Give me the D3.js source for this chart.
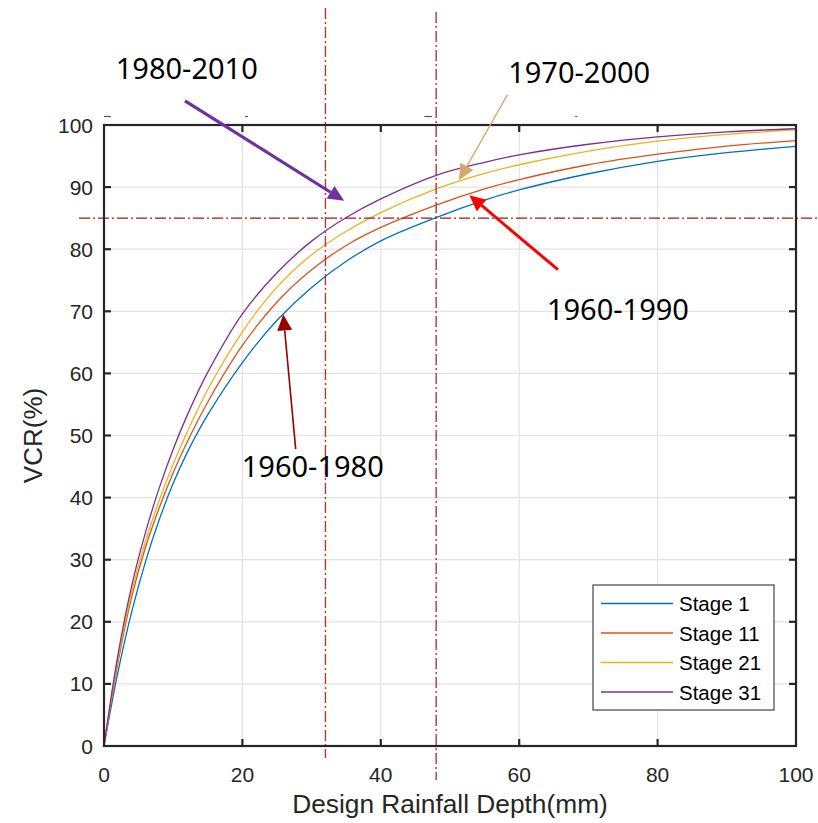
<!DOCTYPE html>
<html>
<head>
<meta charset="utf-8">
<script src="https://cdn.jsdelivr.net/npm/d3@7"></script>
<style>
  html, body { margin: 0; padding: 0; background: #fff; }
  svg { display: block; }
</style>
</head>
<body>
<svg id="chart" width="818" height="823"></svg>
<script>
// data
const depth = [0, 2, 4, 6, 8, 10, 12, 15, 20, 25, 30, 35, 40, 48, 55, 60, 70, 80, 90, 100];
const stage1  = [0, 11.8, 21.6, 29.7, 36.5, 42.3, 47.2, 53.35, 61.75, 68.55, 73.85, 78.05, 81.35, 85.1, 87.9, 89.55, 92.15, 94.15, 95.55, 96.55];
const stage11 = [0, 13.3, 24.0, 32.0, 38.4, 44.0, 48.9, 55.4, 64.5, 71.5, 76.7, 80.6, 83.5, 87.1, 89.7, 91.2, 93.6, 95.3, 96.6, 97.5];
const stage21 = [0, 13.9, 24.8, 33.0, 39.6, 45.4, 50.5, 57.4, 66.7, 73.9, 79.1, 82.9, 85.9, 89.7, 92.2, 93.6, 95.8, 97.4, 98.5, 99.2];
const stage31 = [0, 14.6, 25.8, 34.4, 41.6, 47.8, 53.2, 60.2, 69.6, 76.2, 81.3, 85.1, 88.1, 91.9, 94.0, 95.2, 96.9, 98.1, 98.9, 99.4];

const seriesNames = ["Stage 1", "Stage 11", "Stage 21", "Stage 31"];
const seriesValues = [stage1, stage11, stage21, stage31];
const seriesColors = ["#0072BD", "#D95319", "#EDB120", "#7E2F8E"];

const xTicks = [0, 20, 40, 60, 80, 100];
const yTicks = [0, 10, 20, 30, 40, 50, 60, 70, 80, 90, 100];

// reference lines
const refX = [32, 48];
const refY = 85;

// arrow annotations (data units)
const noteText  = ["1980-2010", "1970-2000", "1960-1990", "1960-1980"];
const noteTextX = [1.7, 58.4, 64.0, 19.9];
const noteTextY = [107.4, 106.8, 68.6, 43.3];
const noteFrom  = [[11.7, 103.9], [58.3, 104.9], [65.6, 76.7], [27.7, 47.8]];
const noteTo    = [[34.7, 87.8], [51.3, 91.1], [52.8, 88.7], [25.9, 69.5]];
const noteColor = ["#7030A0", "#D2AA6E", "#FF0000", "#990000"];
const noteWidth = [3.2, 1.3, 3.0, 1.6];

const svg = d3.select("#chart");
const mLeft = 104, mRight = 796, mTop = 125, mBottom = 746;

const x = d3.scaleLinear().domain([0, 100]).range([mLeft, mRight]);
const y = d3.scaleLinear().domain([0, 100]).range([mBottom, mTop]);

const axisColor = "#262626";
const tickFont = "'Liberation Sans', Arial, sans-serif";

// grid
const grid = svg.append("g");
grid.selectAll(".gx").data(xTicks.slice(1, -1)).enter().append("line")
    .attr("x1", d => x(d)).attr("x2", d => x(d))
    .attr("y1", mTop).attr("y2", mBottom)
    .attr("stroke", "#e3e3e3").attr("stroke-width", 1.2);
grid.selectAll(".gy").data(yTicks.slice(1, -1)).enter().append("line")
    .attr("x1", mLeft).attr("x2", mRight)
    .attr("y1", d => y(d)).attr("y2", d => y(d))
    .attr("stroke", "#e3e3e3").attr("stroke-width", 1.2);

// small leftover marks above the box
const strayX = [[0, 1], [20.4, 20.8], [46.3, 47.4], [68.1, 68.4]];
svg.selectAll(".stray").data(strayX).enter().append("line")
    .attr("x1", d => x(d[0])).attr("x2", d => x(d[1]))
    .attr("y1", 116.5).attr("y2", 116.5)
    .attr("stroke", "#555").attr("stroke-width", 1.2);

// curves
const line = d3.line()
    .x((d, i) => x(depth[i]))
    .y(d => y(d))
    .curve(d3.curveCatmullRom.alpha(0.5));

svg.append("g").selectAll("path").data(seriesValues).enter().append("path")
    .attr("d", d => line(d))
    .attr("fill", "none")
    .attr("stroke", (d, i) => seriesColors[i])
    .attr("stroke-width", 1.3);

// dash-dot reference lines
svg.selectAll(".vref").data(refX).enter().append("line")
    .attr("x1", d => x(d)).attr("x2", d => x(d))
    .attr("y1", (d, i) => i === 0 ? 8 : 12)
    .attr("y2", (d, i) => i === 0 ? 758 : 780)
    .attr("stroke", "#B03A3A").attr("stroke-width", 1.4)
    .attr("stroke-dasharray", "11,3,2,3");
svg.append("line")
    .attr("x1", 79).attr("x2", 818)
    .attr("y1", y(refY)).attr("y2", y(refY))
    .attr("stroke", "#A01818").attr("stroke-width", 1.4)
    .attr("stroke-dasharray", "11,3,2,3");

// axes (MATLAB style box with inward ticks)
const tickLen = 7;
const axes = svg.append("g")
    .attr("stroke", axisColor).attr("stroke-width", 2.2).attr("fill", "none");
axes.append("rect")
    .attr("x", mLeft).attr("y", mTop)
    .attr("width", mRight - mLeft).attr("height", mBottom - mTop);
xTicks.slice(1, -1).forEach(t => {
    axes.append("line").attr("x1", x(t)).attr("x2", x(t)).attr("y1", mBottom).attr("y2", mBottom - tickLen);
    axes.append("line").attr("x1", x(t)).attr("x2", x(t)).attr("y1", mTop).attr("y2", mTop + tickLen);
});
yTicks.slice(1, -1).forEach(t => {
    axes.append("line").attr("x1", mLeft).attr("x2", mLeft + tickLen).attr("y1", y(t)).attr("y2", y(t));
    axes.append("line").attr("x1", mRight).attr("x2", mRight - tickLen).attr("y1", y(t)).attr("y2", y(t));
});

svg.selectAll(".xl").data(xTicks).enter().append("text")
    .attr("x", d => x(d)).attr("y", mBottom + 36)
    .attr("text-anchor", "middle")
    .attr("fill", axisColor)
    .style("font-family", tickFont).style("font-size", "21px")
    .text(d => d);
svg.selectAll(".yl").data(yTicks).enter().append("text")
    .attr("x", mLeft - 11).attr("y", d => y(d) + 7.5)
    .attr("text-anchor", "end")
    .attr("fill", axisColor)
    .style("font-family", tickFont).style("font-size", "21px")
    .text(d => d);

svg.append("text")
    .attr("x", (mLeft + mRight) / 2).attr("y", 813)
    .attr("text-anchor", "middle")
    .attr("fill", axisColor)
    .style("font-family", tickFont).style("font-size", "26.3px")
    .text("Design Rainfall Depth(mm)");
svg.append("text")
    .attr("transform", `translate(42,${(mTop + mBottom) / 2}) rotate(-90)`)
    .attr("text-anchor", "middle")
    .attr("fill", axisColor)
    .style("font-family", tickFont).style("font-size", "26px")
    .text("VCR(%)");

// legend
const lg = svg.append("g").attr("transform", "translate(593,585)");
lg.append("rect")
    .attr("width", 181).attr("height", 125)
    .attr("fill", "#fff").attr("stroke", "#444").attr("stroke-width", 1.2);
seriesNames.forEach((name, i) => {
    const ly = 18.5 + i * 29.5;
    lg.append("line")
        .attr("x1", 8).attr("x2", 80).attr("y1", ly).attr("y2", ly)
        .attr("stroke", seriesColors[i]).attr("stroke-width", 1.4);
    lg.append("text")
        .attr("x", 86).attr("y", ly + 7.5)
        .attr("fill", "#000")
        .style("font-family", tickFont).style("font-size", "20.5px")
        .text(name);
});

// annotations
const notes = svg.append("g");
noteText.forEach((t, i) => {
    notes.append("text")
        .attr("x", x(noteTextX[i])).attr("y", y(noteTextY[i]))
        .attr("fill", "#000")
        .style("font-family", "'Noto Sans', 'Open Sans', sans-serif")
        .style("font-size", "29px")
        .text(t);

    const x0 = x(noteFrom[i][0]), y0 = y(noteFrom[i][1]);
    const x1 = x(noteTo[i][0]), y1 = y(noteTo[i][1]);
    const ang = Math.atan2(y1 - y0, x1 - x0);
    const headLen = 16, headW = 7.5;
    const bx = x1 - headLen * Math.cos(ang), by = y1 - headLen * Math.sin(ang);
    notes.append("line")
        .attr("x1", x0).attr("y1", y0).attr("x2", bx).attr("y2", by)
        .attr("stroke", noteColor[i]).attr("stroke-width", noteWidth[i]);
    const px = -Math.sin(ang), py = Math.cos(ang);
    notes.append("polygon")
        .attr("points", [
            [x1, y1],
            [bx + headW * px, by + headW * py],
            [bx - headW * px, by - headW * py]
        ].map(p => p.join(",")).join(" "))
        .attr("fill", noteColor[i]);
});
</script>
</body>
</html>
